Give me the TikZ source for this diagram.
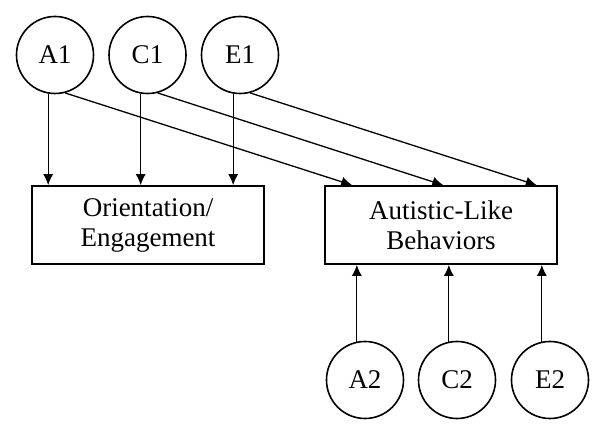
\documentclass[tikz,border=0pt]{standalone}
\usepackage{fontspec}
\setmainfont{Liberation Serif}
\usetikzlibrary{arrows.meta,calc}

\begin{document}
\begin{tikzpicture}[
    x=1pt, y=1pt,
    % Define styles
    latent/.style={
        circle,
        draw=black,
        line width=1.6pt,
        minimum size=77pt,
        inner sep=0pt,
        font=\fontsize{27}{30}\selectfont
    },
    trait/.style={
        rectangle,
        draw=black,
        line width=1.6pt,
        minimum width=232pt,
        minimum height=78pt,
        align=center,
        font=\fontsize{27}{30}\selectfont
    },
    path/.style={
        black,
        line width=1.3pt,
        -{Latex[length=11pt, width=10pt]}
    }
]
    \useasboundingbox (0,0) rectangle (600,431);

    % --- Top latent factors ---
    \node[latent] (A1) at (55, 376) {A1};
    \node[latent] (C1) at (147.5, 376) {C1};
    \node[latent] (E1) at (240, 376) {E1};

    % --- Observed measures ---
    \node[trait] (OE) at (148, 206) {Orientation/\\Engagement};
    \node[trait] (AL) at (441, 206) {Autistic-Like\\Behaviors};

    % --- Bottom latent factors ---
    \node[latent] (A2) at (365, 51) {A2};
    \node[latent] (C2) at (457, 51) {C2};
    \node[latent] (E2) at (550, 51) {E2};

    % Paths into Orientation/Engagement
    \foreach \f in {A1, C1, E1} {
        \draw[path] (\f.260) -- (\f.260 |- OE.north);
    }

    % Cross paths into Autistic-Like Behaviors
    \draw[path] (A1.285) -- ($(AL.north west)!0.12!(AL.north east)$);
    \draw[path] (C1.285) -- ($(AL.north west)!0.51!(AL.north east)$);
    \draw[path] (E1.285) -- ($(AL.north west)!0.91!(AL.north east)$);

    % Paths from bottom factors
    \foreach \f in {A2, C2, E2} {
        \draw[path] (\f.102) -- (\f.102 |- AL.south);
    }

\end{tikzpicture}
\end{document}
